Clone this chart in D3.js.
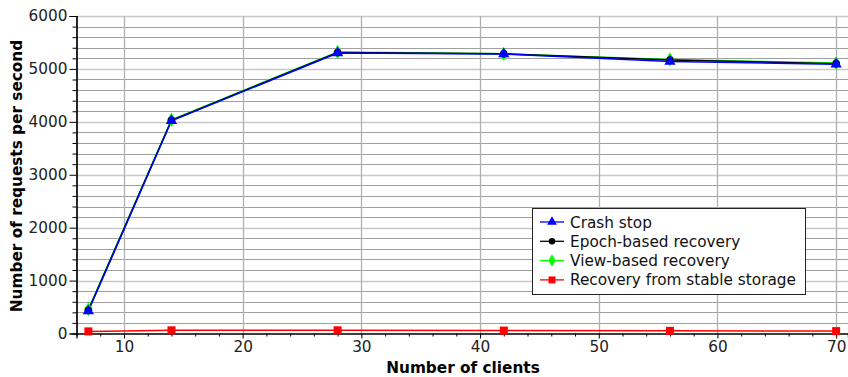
<!DOCTYPE html>
<html><head><meta charset="utf-8">
<script src="https://cdn.jsdelivr.net/npm/d3@7"></script>
<style>body{margin:0;background:#fff}text{font-family:"DejaVu Sans",sans-serif}</style>
</head><body><svg id="c" width="848" height="377"></svg>
<script>
const clients = [7, 14, 28, 42, 56, 70];
const crashStop = [425, 4020, 5300, 5280, 5140, 5090];
const epochBased = [440, 4030, 5310, 5285, 5170, 5100];
const viewBased = [457, 4040, 5320, 5285, 5180, 5110];
const stableStorage = [40, 60, 60, 55, 50, 45];
const seriesNames = ["Crash stop", "Epoch-based recovery", "View-based recovery", "Recovery from stable storage"];
const seriesColors = ["#0000ff", "#000000", "#00ff00", "#ff0000"];
const seriesMarkers = ["triangle", "circle", "diamond", "square"];
const seriesValues = [crashStop, epochBased, viewBased, stableStorage];
const xTicks = [10, 20, 30, 40, 50, 60, 70];
const yTicks = [0, 1000, 2000, 3000, 4000, 5000, 6000];

const FS = 15.3;
const svg = d3.select("#c");
const x = d3.scaleLinear().domain([6, 71]).range([76.5, 848]);
const y = d3.scaleLinear().domain([0, 6000]).range([333.5, 16]);

// grid
const g = svg.append("g");
const yMinor = d3.range(200, 6001, 200).filter(v => v % 1000 !== 0);
g.selectAll(".ym").data(yMinor).join("line")
  .attr("x1", x(6)).attr("x2", 848).attr("y1", d => Math.round(y(d)) + 0.5).attr("y2", d => Math.round(y(d)) + 0.5)
  .attr("stroke", "#a0a0a0").attr("stroke-width", 1.2);
g.selectAll(".yM").data(yTicks.filter(d => d > 0)).join("line")
  .attr("x1", x(6)).attr("x2", 848).attr("y1", d => Math.round(y(d)) + 0.5).attr("y2", d => Math.round(y(d)) + 0.5)
  .attr("stroke", "#c8c8c8").attr("stroke-width", 1.5);
g.selectAll(".xM").data(xTicks).join("line")
  .attr("y1", y(0)).attr("y2", y(6000)).attr("x1", d => Math.round(x(d)) + 0.5).attr("x2", d => Math.round(x(d)) + 0.5)
  .attr("stroke", "#b0b0b0").attr("stroke-width", 1.3);

// axes
const xAxis = d3.axisBottom(x).tickValues(xTicks).tickSize(5).tickPadding(3).tickFormat(d3.format("d"));
const xAxisMinor = d3.axisBottom(x).tickValues(d3.range(8, 71, 2).filter(v => v % 10 !== 0)).tickSize(3).tickFormat("");
const yAxis = d3.axisLeft(y).tickValues(yTicks).tickSize(7).tickPadding(2).tickFormat(d3.format("d"));
const yAxisMinor = d3.axisLeft(y).tickValues(yMinor).tickSize(4).tickFormat("");
function style(sel) {
  sel.select(".domain").attr("stroke", "#000").attr("stroke-width", 1.2);
  sel.selectAll(".tick line").attr("stroke", "#000");
  sel.selectAll(".tick text").attr("font-size", FS).attr("fill", "#222").attr("font-family", "DejaVu Sans");
}
svg.append("g").attr("transform", `translate(0,${y(0)})`).call(xAxis).call(style);
svg.append("g").attr("transform", `translate(0,${y(0)})`).call(xAxisMinor).call(style);
svg.append("g").attr("transform", `translate(${x(6)},0)`).call(yAxis).call(style);
svg.append("g").attr("transform", `translate(${x(6)},0)`).call(yAxisMinor).call(style);

// marker symbols
const symMap = {triangle: d3.symbolTriangle, circle: d3.symbolCircle, diamond: d3.symbolDiamond, square: d3.symbolSquare};
const symSize = {triangle: 55, circle: 45, diamond: 60, square: 64};
function marker(sel, type, color, k = 1) {
  sel.attr("d", d3.symbol().type(symMap[type]).size(symSize[type] * k)()).attr("fill", color);
}

const line = d3.line().x((d, i) => x(clients[i])).y(d => y(d));
const order = [3, 2, 1, 0];
order.forEach(si => {
  const vals = seriesValues[si];
  svg.append("path").datum(vals).attr("d", line).attr("fill", "none")
    .attr("stroke", seriesColors[si]).attr("stroke-width", 1.5);
});
order.forEach(si => {
  const vals = seriesValues[si];
  svg.append("g").selectAll("path").data(vals).join("path")
    .attr("transform", (d, i) => `translate(${x(clients[i])},${y(d)})`)
    .each(function () { marker(d3.select(this), seriesMarkers[si], seriesColors[si]); });
});

// legend
const lg = svg.append("g").attr("transform", "translate(532,208)");
lg.append("rect").attr("x", 0.5).attr("y", 0.5).attr("width", 273).attr("height", 86)
  .attr("fill", "#fff").attr("stroke", "#222").attr("stroke-width", 1);
seriesNames.forEach((n, i) => {
  const yy = 14 + i * 19.3;
  lg.append("line").attr("x1", 8).attr("x2", 32).attr("y1", yy).attr("y2", yy).attr("stroke", seriesColors[i]).attr("stroke-width", 1.3);
  lg.append("path").attr("transform", `translate(20,${yy})`).call(s => marker(s, seriesMarkers[i], seriesColors[i], 0.75));
  lg.append("text").attr("x", 38).attr("y", yy + 5.5).attr("font-size", FS).attr("fill", "#111").text(n);
});

// axis titles
svg.append("text").attr("x", 463).attr("y", 373).attr("text-anchor", "middle")
  .attr("font-size", FS).attr("font-weight", "bold").text("Number of clients");
svg.append("text").attr("transform", "translate(22,176) rotate(-90)").attr("text-anchor", "middle")
  .attr("font-size", FS).attr("font-weight", "bold").text("Number of requests per second");
</script></body></html>
